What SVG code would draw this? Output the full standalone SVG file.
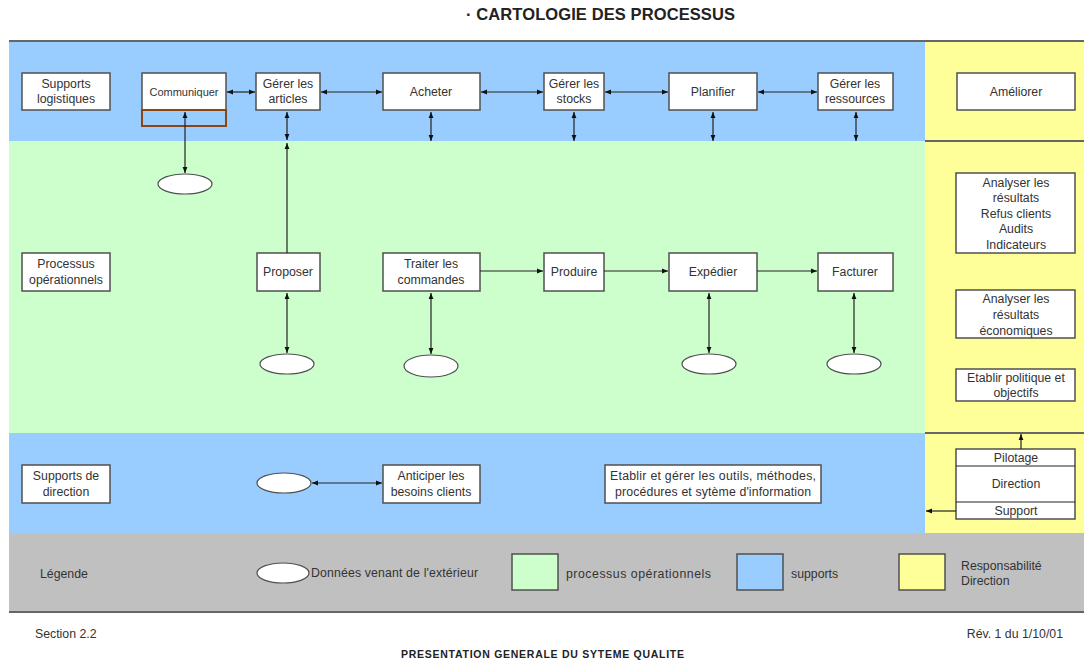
<svg xmlns="http://www.w3.org/2000/svg" width="1084" height="664" viewBox="0 0 1084 664">
<style>
text{font-family:"Liberation Sans",Arial,sans-serif;fill:#333;font-size:12.3px}
.c{text-anchor:middle}
.box{fill:#fff;stroke:#505050;stroke-width:1.5}
.ell{fill:#fff;stroke:#505050;stroke-width:1.2}
.ln{stroke:#222;stroke-width:1.2;fill:none}
.sep{stroke:#666;stroke-width:2}
.ttl{font-weight:bold;font-size:16.5px;fill:#222}
.ft{font-weight:bold;font-size:10.5px;fill:#222}
</style>
<defs>
<marker id="ah" viewBox="0 0 10 10" refX="10" refY="5" markerWidth="6" markerHeight="6" markerUnits="userSpaceOnUse" orient="auto-start-reverse"><path d="M0,1 L10,5 L0,9 z" fill="#111"/></marker>
</defs>
<rect width="1084" height="664" fill="#fff"/>
<text class="ttl" x="466" y="20" textLength="269">· CARTOLOGIE DES PROCESSUS</text>
<g id="bands">
<rect x="9" y="41" width="916" height="100" fill="#99ccff"/>
<rect x="9" y="141" width="916" height="292" fill="#ccffcc"/>
<rect x="9" y="433" width="916" height="100" fill="#99ccff"/>
<rect x="925" y="41" width="159" height="492" fill="#ffff99"/>
<rect x="9" y="533" width="1075" height="80" fill="#c0c0c0"/>
<line class="sep" x1="9" y1="41" x2="1084" y2="41"/>
<line class="sep" x1="925" y1="141" x2="1084" y2="141"/>
<line class="sep" x1="925" y1="433" x2="1084" y2="433"/>
<line class="sep" x1="9" y1="612" x2="1084" y2="612"/>
</g>
<g id="supports-logistiques"><rect class="box" x="22" y="73" width="88" height="37"/><text class="c" x="66" y="88">Supports</text><text class="c" x="66" y="103">logistiques</text></g>
<g id="communiquer"><rect class="box" x="142" y="73" width="84" height="37"/><text class="c" x="184" y="96" style="font-size:11px">Communiquer</text><rect x="142" y="110" width="84" height="16" fill="none" stroke="#8b4513" stroke-width="2"/></g>
<g id="gerer-articles"><rect class="box" x="256" y="73" width="64" height="37"/><text class="c" x="288" y="88">Gérer les</text><text class="c" x="288" y="103">articles</text></g>
<g id="acheter"><rect class="box" x="383" y="73" width="97" height="37"/><text class="c" x="431" y="96">Acheter</text></g>
<g id="gerer-stocks"><rect class="box" x="544" y="73" width="60" height="37"/><text class="c" x="574" y="88">Gérer les</text><text class="c" x="574" y="103">stocks</text></g>
<g id="planifier"><rect class="box" x="669" y="73" width="88" height="37"/><text class="c" x="713" y="96">Planifier</text></g>
<g id="gerer-ressources"><rect class="box" x="818" y="73" width="75" height="37"/><text class="c" x="855" y="88">Gérer les</text><text class="c" x="855" y="103">ressources</text></g>
<g id="ameliorer"><rect class="box" x="957" y="73" width="118" height="37"/><text class="c" x="1016" y="96">Améliorer</text></g>
<g id="processus-operationnels"><rect class="box" x="22" y="253" width="88" height="38"/><text class="c" x="66" y="268">Processus</text><text class="c" x="66" y="284">opérationnels</text></g>
<g id="proposer"><rect class="box" x="257" y="253" width="63" height="38"/><text class="c" x="288" y="276">Proposer</text></g>
<g id="traiter"><rect class="box" x="383" y="253" width="97" height="38"/><text class="c" x="431" y="268">Traiter les</text><text class="c" x="431" y="284">commandes</text></g>
<g id="produire"><rect class="box" x="544" y="253" width="60" height="38"/><text class="c" x="574" y="276">Produire</text></g>
<g id="expedier"><rect class="box" x="669" y="253" width="88" height="38"/><text class="c" x="713" y="276">Expédier</text></g>
<g id="facturer"><rect class="box" x="818" y="253" width="75" height="38"/><text class="c" x="855" y="276">Facturer</text></g>
<g id="analyser1"><rect class="box" x="956" y="173" width="119" height="80"/><text class="c" x="1016" y="187">Analyser les</text><text class="c" x="1016" y="202">résultats</text><text class="c" x="1016" y="218">Refus clients</text><text class="c" x="1016" y="233">Audits</text><text class="c" x="1016" y="249">Indicateurs</text></g>
<g id="analyser2"><rect class="box" x="956" y="290" width="119" height="48"/><text class="c" x="1016" y="303">Analyser les</text><text class="c" x="1016" y="319">résultats</text><text class="c" x="1016" y="335">économiques</text></g>
<g id="etablir-politique"><rect class="box" x="956" y="369" width="119" height="32"/><text class="c" x="1016" y="382">Etablir politique et</text><text class="c" x="1016" y="397">objectifs</text></g>
<g id="supports-direction"><rect class="box" x="22" y="465" width="88" height="38"/><text class="c" x="66" y="480">Supports de</text><text class="c" x="66" y="496">direction</text></g>
<g id="anticiper"><rect class="box" x="383" y="465" width="97" height="38"/><text class="c" x="431" y="480">Anticiper les</text><text class="c" x="431" y="496">besoins clients</text></g>
<g id="etablir-outils"><rect class="box" x="605" y="465" width="216" height="38"/><text class="c" x="713" y="480" textLength="206">Etablir et gérer les outils, méthodes,</text><text class="c" x="713" y="496" textLength="196">procédures et sytème d'information</text></g>
<g id="pilotage"><rect class="box" x="956" y="449" width="119" height="70"/><line class="ln" x1="956" y1="466" x2="1075" y2="466"/><line class="ln" x1="956" y1="502" x2="1075" y2="502"/><text class="c" x="1016" y="462">Pilotage</text><text class="c" x="1016" y="488">Direction</text><text class="c" x="1016" y="515">Support</text></g>
<g id="ellipses">
<ellipse class="ell" cx="185" cy="184" rx="27" ry="10"/>
<ellipse class="ell" cx="287" cy="364" rx="27" ry="10"/>
<ellipse class="ell" cx="431" cy="366" rx="27" ry="11"/>
<ellipse class="ell" cx="709" cy="364" rx="27" ry="10"/>
<ellipse class="ell" cx="854" cy="364" rx="27" ry="10"/>
<ellipse class="ell" cx="284" cy="483" rx="27" ry="10"/>
</g>
<g id="connectors">
<line class="ln" x1="227" y1="92" x2="255" y2="92" marker-start="url(#ah)" marker-end="url(#ah)"/>
<line class="ln" x1="321" y1="92" x2="382" y2="92" marker-start="url(#ah)" marker-end="url(#ah)"/>
<line class="ln" x1="481" y1="92" x2="543" y2="92" marker-start="url(#ah)" marker-end="url(#ah)"/>
<line class="ln" x1="605" y1="92" x2="668" y2="92" marker-start="url(#ah)" marker-end="url(#ah)"/>
<line class="ln" x1="758" y1="92" x2="817" y2="92" marker-start="url(#ah)" marker-end="url(#ah)"/>
<line class="ln" x1="287" y1="112" x2="287" y2="140" marker-start="url(#ah)" marker-end="url(#ah)"/>
<line class="ln" x1="431" y1="112" x2="431" y2="141" marker-start="url(#ah)" marker-end="url(#ah)"/>
<line class="ln" x1="574" y1="112" x2="574" y2="141" marker-start="url(#ah)" marker-end="url(#ah)"/>
<line class="ln" x1="713" y1="112" x2="713" y2="141" marker-start="url(#ah)" marker-end="url(#ah)"/>
<line class="ln" x1="856" y1="112" x2="856" y2="141" marker-start="url(#ah)" marker-end="url(#ah)"/>
<line class="ln" x1="185" y1="112" x2="185" y2="173" marker-start="url(#ah)" marker-end="url(#ah)"/>
<line class="ln" x1="287" y1="253" x2="287" y2="143" marker-end="url(#ah)"/>
<line class="ln" x1="480" y1="271" x2="543" y2="271" marker-end="url(#ah)"/>
<line class="ln" x1="604" y1="271" x2="668" y2="271" marker-end="url(#ah)"/>
<line class="ln" x1="757" y1="271" x2="817" y2="271" marker-end="url(#ah)"/>
<line class="ln" x1="287" y1="293" x2="287" y2="353" marker-start="url(#ah)" marker-end="url(#ah)"/>
<line class="ln" x1="431" y1="293" x2="431" y2="354" marker-start="url(#ah)" marker-end="url(#ah)"/>
<line class="ln" x1="709" y1="293" x2="709" y2="353" marker-start="url(#ah)" marker-end="url(#ah)"/>
<line class="ln" x1="854" y1="293" x2="854" y2="353" marker-start="url(#ah)" marker-end="url(#ah)"/>
<line class="ln" x1="312" y1="483" x2="382" y2="483" marker-start="url(#ah)" marker-end="url(#ah)"/>
<line class="ln" x1="1021" y1="449" x2="1021" y2="434" marker-end="url(#ah)"/>
<line class="ln" x1="956" y1="511" x2="926" y2="511" marker-end="url(#ah)"/>
</g>
<g id="legend">
<text x="40" y="578">Légende</text>
<ellipse class="ell" cx="283" cy="573" rx="26" ry="10"/>
<text x="311" y="577" textLength="167">Données venant de l'extérieur</text>
<rect x="512" y="554" width="46" height="36" fill="#ccffcc" stroke="#505050" stroke-width="1.5"/>
<text x="566" y="578" textLength="145">processus opérationnels</text>
<rect x="737" y="554" width="46" height="36" fill="#99ccff" stroke="#505050" stroke-width="1.5"/>
<text x="791" y="578">supports</text>
<rect x="899" y="554" width="46" height="36" fill="#ffff99" stroke="#505050" stroke-width="1.5"/>
<text x="961" y="570">Responsabilité</text>
<text x="961" y="585">Direction</text>
</g>
<g id="footer">
<text x="35" y="638">Section 2.2</text>
<text x="1063" y="638" style="text-anchor:end">Rév. 1 du 1/10/01</text>
<text class="ft" x="401" y="658" textLength="283">PRESENTATION GENERALE DU SYTEME QUALITE</text>
</g>
</svg>
